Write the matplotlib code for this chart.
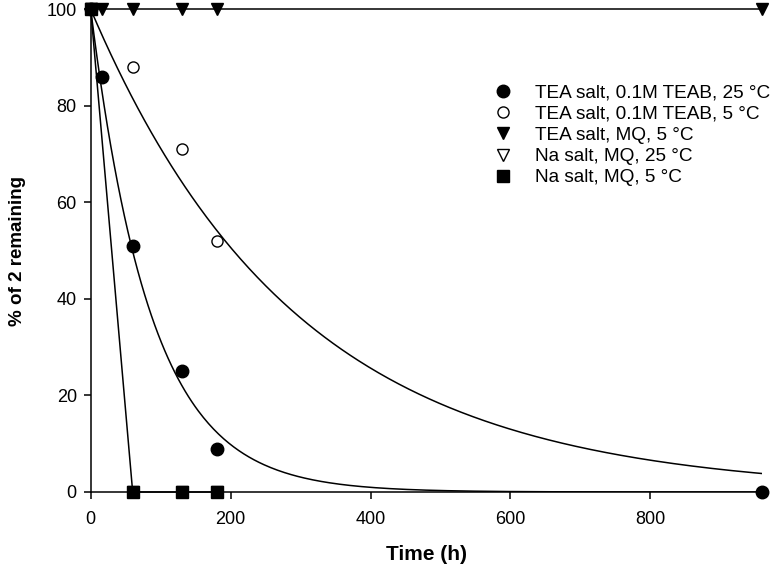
import numpy as np
import matplotlib
matplotlib.use("Agg")
import matplotlib.pyplot as plt

plt.rcParams["font.family"] = ["Liberation Sans", "DejaVu Sans"]

# data (time in h, % of 2 remaining)
t_teab25 = [0, 16, 60, 130, 180, 960]
y_teab25 = [100, 86, 51, 25, 9, 0]

t_teab5 = [0, 60, 130, 180, 960]
y_teab5 = [100, 88, 71, 52, 0]

t_mq5 = [0, 16, 60, 130, 180, 960]
y_mq5 = [100, 100, 100, 100, 100, 100]

t_na25 = [0, 60, 130, 180]
y_na25 = [100, 0, 0, 0]

t_na5 = [0, 60, 130, 180]
y_na5 = [100, 0, 0, 0]

# first-order decay fits (y = a * exp(-k t))
a_teab25, k_teab25 = 100.0, 0.0116
a_teab5, k_teab5 = 100.0, 0.0034

labels = [
    "TEA salt, 0.1M TEAB, 25 \u00b0C",
    "TEA salt, 0.1M TEAB, 5 \u00b0C",
    "TEA salt, MQ, 5 \u00b0C",
    "Na salt, MQ, 25 \u00b0C",
    "Na salt, MQ, 5 \u00b0C",
]

fig = plt.figure(figsize=(7.74, 5.75), dpi=100)
ax = fig.add_axes([90.7 / 774, 1 - 492 / 575, (762.3 - 90.7) / 774, (492 - 9.3) / 575])

# fitted curves and connecting lines
tt = np.linspace(0, 960, 400)
ax.plot(tt, a_teab25 * np.exp(-k_teab25 * tt), color="black", lw=1.1, zorder=2)
ax.plot(tt, a_teab5 * np.exp(-k_teab5 * tt), color="black", lw=1.1, zorder=2)
ax.plot(t_mq5, y_mq5, color="black", lw=1.1, zorder=2, clip_on=False)
ax.plot(t_na5, y_na5, color="black", lw=1.1, zorder=2, clip_on=False)

mk = dict(ls="none", color="black", clip_on=False, zorder=4)
ax.plot(t_na25, y_na25, marker="v", ms=8.5, mfc="white", mew=1.0, label=labels[3], **mk)
ax.plot(t_na5, y_na5, marker="s", ms=8, label=labels[4], **mk)
ax.plot(t_mq5, y_mq5, marker="v", ms=9, label=labels[2], **mk)
ax.plot(t_teab5, y_teab5, marker="o", ms=8, mfc="white", mew=1.0, label=labels[1], **mk)
ax.plot(t_teab25, y_teab25, marker="o", ms=9, label=labels[0], **mk)

ax.set_xlim(0, 960)
ax.set_ylim(0, 100)
ax.set_xticks([0, 200, 400, 600, 800])
ax.set_yticks([0, 20, 40, 60, 80, 100])
ax.spines["top"].set_visible(False)
ax.spines["right"].set_visible(False)
for s in ("left", "bottom"):
    ax.spines[s].set_linewidth(1.1)
ax.tick_params(direction="out", length=5, width=1.1, labelsize=13)
ax.tick_params(axis="x", pad=9)
ax.tick_params(axis="y", pad=5)

ax.set_xlabel("Time (h)", fontsize=15, fontweight="bold", labelpad=12)
ax.set_ylabel("% of 2 remaining", fontsize=13.5, fontweight="bold", labelpad=15)

h, l = ax.get_legend_handles_labels()
order = [l.index(s) for s in labels]
ax.legend([h[i] for i in order], [l[i] for i in order], frameon=False, fontsize=13.7,
          loc="upper left", bbox_to_anchor=(493 / 774, 1 - 84.5 / 575),
          bbox_transform=fig.transFigure, borderpad=0, borderaxespad=0,
          handlelength=1.0, handletextpad=1.2, labelspacing=0.2)

fig.savefig("out.png", dpi=100)
